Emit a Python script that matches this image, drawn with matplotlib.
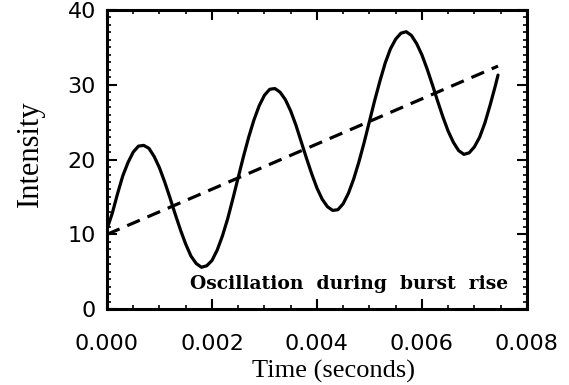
import matplotlib
matplotlib.use("Agg")
import matplotlib.pyplot as plt
from matplotlib.ticker import MultipleLocator

# Time samples (seconds) and intensity
time_s = [k * 0.0001 for k in range(75)] + [0.00745]
intensity = [
    10.7, 12.8, 15.4, 17.8, 19.6, 21.0, 21.8, 21.9, 21.5, 20.4,
    18.9, 17.0, 14.9, 12.7, 10.6, 8.7, 7.1, 6.1, 5.6, 5.8,
    6.5, 7.9, 9.8, 12.1, 14.8, 17.6, 20.4, 23.0, 25.3, 27.2,
    28.6, 29.4, 29.5, 29.0, 28.0, 26.5, 24.6, 22.4, 20.2, 18.1,
    16.2, 14.7, 13.7, 13.2, 13.3, 14.1, 15.5, 17.4, 19.7, 22.3,
    25.1, 27.9, 30.5, 32.9, 34.8, 36.1, 36.9, 37.1, 36.6, 35.5,
    34.0, 32.1, 30.0, 27.8, 25.7, 23.8, 22.3, 21.2, 20.7, 20.9,
    21.7, 23.0, 24.9, 27.3, 29.9, 31.3,
]
trend_t = [0.0, 0.00745]
trend_i = [10.0, 32.5]

x_ticks = [0.000, 0.002, 0.004, 0.006, 0.008]
x_tick_labels = ["0.000", "0.002", "0.004", "0.006", "0.008"]
y_ticks = [0, 10, 20, 30, 40]
y_tick_labels = ["0", "10", "20", "30", "40"]

fig = plt.figure(figsize=(5.69, 3.85), dpi=100)
ax = fig.add_axes([0.188, 0.197, 0.738, 0.777])

ax.plot(time_s, intensity, color="black", lw=2.3, solid_capstyle="round")
ax.plot(trend_t, trend_i, color="black", lw=2.3, linestyle=(0, (4.3, 2.6)))

ax.set_xlim(0, 0.008)
ax.set_ylim(0, 40)
ax.set_xticks(x_ticks)
ax.set_xticklabels(x_tick_labels)
ax.set_yticks(y_ticks)
ax.set_yticklabels(y_tick_labels)
ax.xaxis.set_minor_locator(MultipleLocator(0.0005))
ax.yaxis.set_minor_locator(MultipleLocator(1))

ax.tick_params(which="both", direction="in", top=True, right=True, color="black")
ax.tick_params(which="major", length=7, width=1.5, labelsize=16)
ax.tick_params(axis="x", which="major", pad=18)
ax.tick_params(axis="y", which="major", pad=8)
ax.tick_params(which="minor", length=3, width=1.2)
for sp in ax.spines.values():
    sp.set_linewidth(2.2)

ax.set_xlabel("Time (seconds)", family="Liberation Serif", fontsize=19)
ax.set_ylabel("Intensity", family="Liberation Serif", fontsize=22)
ax.xaxis.set_label_coords(0.54, -0.17)
ax.yaxis.set_label_coords(-0.148, 0.52)

ax.text(0.955, 0.084, "Oscillation  during  burst  rise", transform=ax.transAxes,
        ha="right", va="center", family="DejaVu Serif", fontweight="bold",
        fontsize=13.5)

fig.savefig("out.png", dpi=100)
